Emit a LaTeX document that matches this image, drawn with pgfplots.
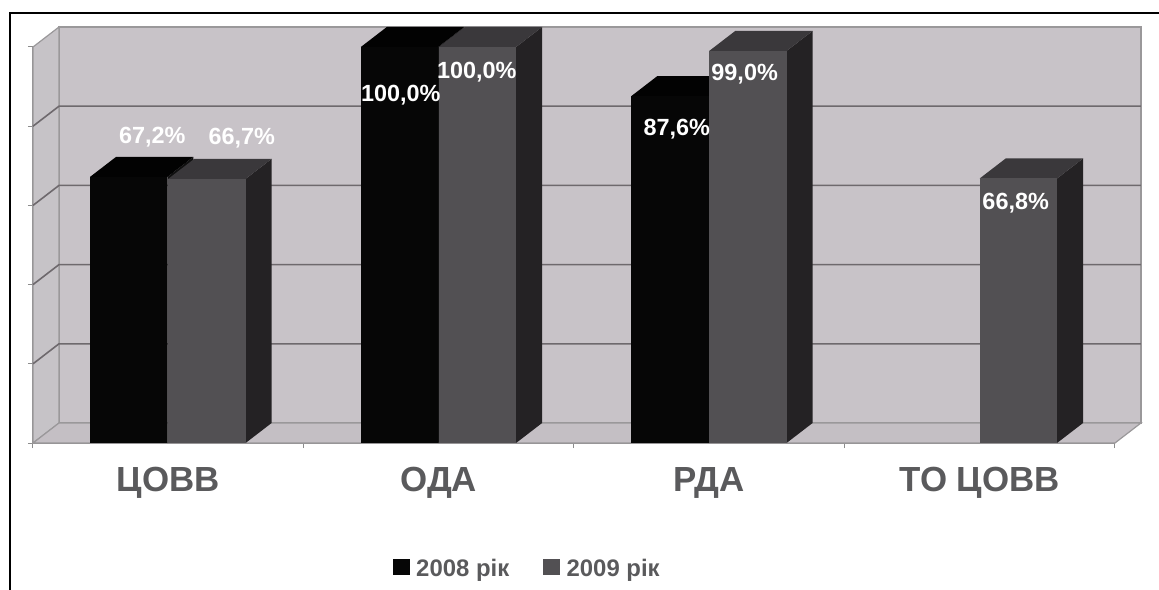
\documentclass[border=0pt]{standalone}
\usepackage{pgfplots}
\pgfplotsset{compat=1.18}
\usepackage{fontspec}
\setmainfont{Liberation Sans}

\definecolor{wallc}{HTML}{C8C3C8}
\definecolor{sidewall}{HTML}{C6C3C7}
\definecolor{floorc}{HTML}{C4BFC4}
\definecolor{gridc}{HTML}{6E696D}
\definecolor{edgec}{HTML}{9A989A}
\definecolor{labc}{HTML}{5A5A5C}
\definecolor{fA}{HTML}{060606}
\definecolor{tA}{HTML}{020202}
\definecolor{sA}{HTML}{101010}
\definecolor{fB}{HTML}{525053}
\definecolor{tB}{HTML}{3A383B}
\definecolor{sB}{HTML}{242224}

% depth of the 3D projection, in data units
\newcommand{\dpx}{0.0961}
\newcommand{\dpy}{5.05}
\newcommand{\barw}{0.286}

% \cuboid{left edge}{value}{front}{top}{side}
\newcommand{\cuboid}[5]{%
  \pgfmathsetmacro{\xr}{#1+\barw}%
  \pgfmathsetmacro{\xl}{#1+\dpx}%
  \pgfmathsetmacro{\xf}{#1+\barw+\dpx}%
  \pgfmathsetmacro{\yb}{#2+\dpy}%
  \addplot[draw=none,fill=#5,forget plot] coordinates {(\xr,0) (\xf,\dpy) (\xf,\yb) (\xr,#2)} --cycle;
  \addplot[draw=none,fill=#4,forget plot] coordinates {(#1,#2) (\xl,\yb) (\xf,\yb) (\xr,#2)} --cycle;
  \addplot[draw=none,fill=#3,forget plot] coordinates {(#1,0) (\xr,0) (\xr,#2) (#1,#2)} --cycle;
}
% \gridrow{value}: one gridline across the side wall and the back wall
\newcommand{\gridrow}[1]{%
  \pgfmathsetmacro{\yb}{#1+\dpy}%
  \addplot[gridc,line width=1.6bp,forget plot] coordinates {(-0.5,#1) (-0.4039,\yb) (3.5961,\yb)};
}

\begin{document}
\begin{tikzpicture}
\useasboundingbox (-33bp,-147bp) rectangle (1126bp,443bp);
\begin{axis}[
  scale only axis,
  width=1082bp, height=396bp,
  xmin=-0.5, xmax=3.5, ymin=0, ymax=100,
  clip=false,
  axis x line=bottom, axis y line=left,
  axis line style={-, draw=gray!90, line width=1.4bp},
  tick align=outside,
  xtick={0,1,2,3},
  xticklabels={ЦОВВ,ОДА,РДА,ТО ЦОВВ},
  minor xtick={-0.5,0.5,1.5,2.5,3.5},
  ytick={0,20,40,60,80,100},
  yticklabels={,,,,,},
  major tick length=5bp,
  minor tick length=5bp,
  xtick style={draw=none},
  minor x tick style={draw=gray!90, line width=1bp},
  y tick style={draw=gray!90, line width=1bp},
  xticklabel style={font=\fontsize{35}{39}\selectfont\bfseries, text=labc, yshift=-16bp},
  legend cell align=left,
  legend columns=2,
  legend style={
    draw=none, fill=none,
    at={(axis cs:0.8185,-31.7)}, anchor=west,
    font=\fontsize{24}{26}\selectfont\bfseries, text=labc,
    /tikz/every odd column/.append style={column sep=5bp},
    /tikz/every even column/.append style={column sep=32bp},
  },
]
% back wall, side wall and floor
\addplot[fill=wallc,draw=edgec,line width=1.2bp,forget plot] coordinates {(-0.4039,5.05) (3.5961,5.05) (3.5961,105.05) (-0.4039,105.05)} --cycle;
\addplot[fill=sidewall,draw=edgec,line width=1.2bp,forget plot] coordinates {(-0.5,0) (-0.4039,5.05) (-0.4039,105.05) (-0.5,100)} --cycle;
\addplot[fill=floorc,draw=edgec,line width=1.2bp,forget plot] coordinates {(-0.5,0) (3.5,0) (3.5961,5.05) (-0.4039,5.05)} --cycle;
\gridrow{20}\gridrow{40}\gridrow{60}\gridrow{80}

% 2008 рік and 2009 рік, cluster by cluster
\cuboid{-0.289}{67.2}{fA}{tA}{sA}
\cuboid{0}{66.7}{fB}{tB}{sB}
\cuboid{0.712}{100}{fA}{tA}{sA}
\cuboid{1}{100}{fB}{tB}{sB}
\cuboid{1.712}{87.6}{fA}{tA}{sA}
\cuboid{2}{99.0}{fB}{tB}{sB}
\cuboid{3}{66.8}{fB}{tB}{sB}

% value labels
\begin{scope}[every node/.style={font=\fontsize{23.5}{26}\selectfont\bfseries,text=white,inner sep=0pt}]
\node at (axis cs:-0.059,77.3) {67,2\%};
\node at (axis cs:0.272,77.0) {66,7\%};
\node at (axis cs:0.8595,87.9) {100,0\%};
\node at (axis cs:1.1405,93.7) {100,0\%};
\node at (axis cs:1.880,79.3) {87,6\%};
\node at (axis cs:2.131,93.2) {99,0\%};
\node at (axis cs:3.133,60.6) {66,8\%};
\end{scope}

% legend swatches
\addlegendimage{legend image code/.code={\fill[fA] (0bp,-6bp) rectangle (16bp,9bp);}}
\addlegendentry{2008 рік}
\addlegendimage{legend image code/.code={\fill[fB] (0bp,-6bp) rectangle (16bp,9bp);}}
\addlegendentry{2009 рік}
\end{axis}
% outer frame of the figure
\draw[black,line width=2bp] (-23bp,-147bp) -- (-23bp,430bp) -- (1126bp,430bp);
\end{tikzpicture}
\end{document}
